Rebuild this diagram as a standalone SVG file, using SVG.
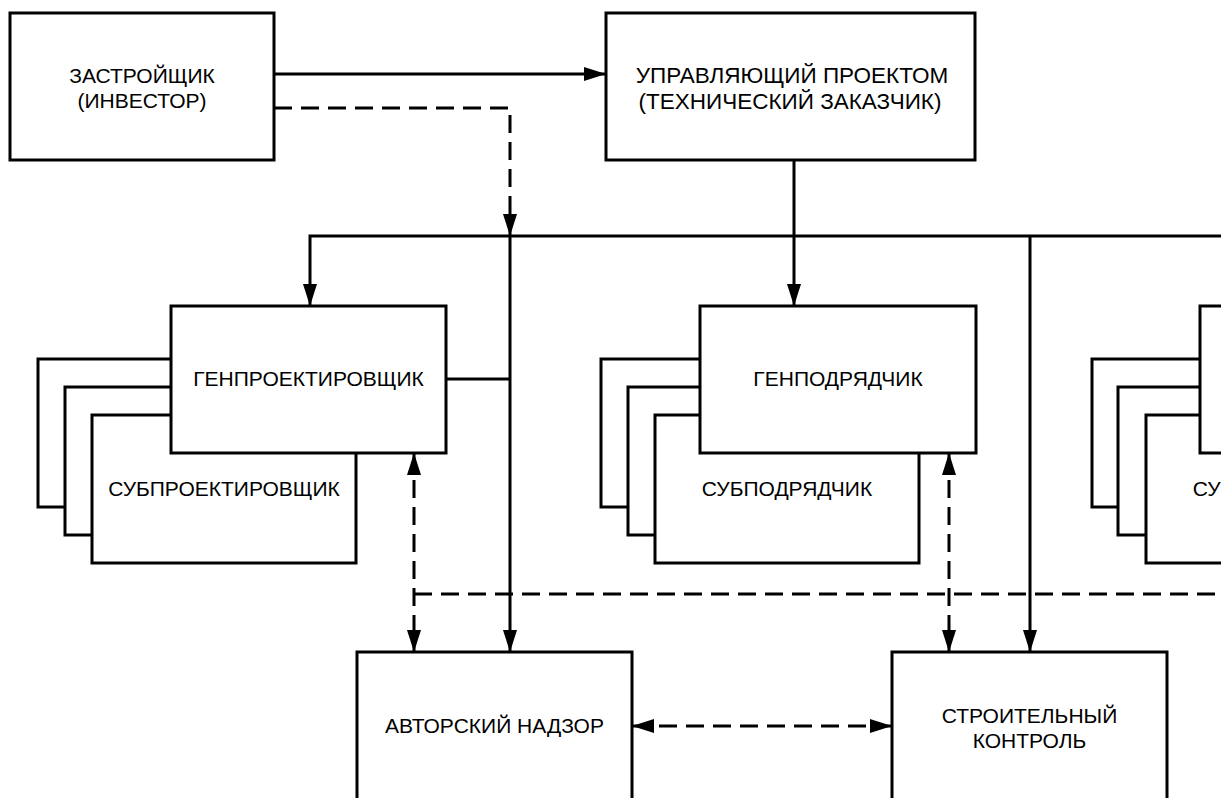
<svg xmlns="http://www.w3.org/2000/svg" width="1221" height="798" viewBox="0 0 1221 798">
<defs>
<style>
.box{fill:#fff;stroke:#000;stroke-width:3}
.ln{fill:none;stroke:#000;stroke-width:3}
.dash{fill:none;stroke:#000;stroke-width:3;stroke-dasharray:18 9}
.t{font-family:"Liberation Sans",Arial,sans-serif;font-size:21px;fill:#000;text-anchor:middle}
.big{font-size:22.5px}
</style>
<marker id="ah" markerUnits="userSpaceOnUse" markerWidth="22" markerHeight="14" refX="22" refY="7" orient="auto-start-reverse" viewBox="0 0 22 14">
<path d="M0,0 L22,7 L0,14 Z" fill="#000"/>
</marker>
</defs>
<rect width="1221" height="798" fill="#fff"/>

<g id="zastroyshchik">
<rect class="box" x="10" y="13" width="264" height="147"/>
<text class="t" x="142" y="83">ЗАСТРОЙЩИК</text>
<text class="t" x="142" y="108">(ИНВЕСТОР)</text>
</g>

<g id="upravlyayushchiy">
<rect class="box" x="606" y="13" width="369" height="147"/>
<text class="t big" x="792" y="83">УПРАВЛЯЮЩИЙ ПРОЕКТОМ</text>
<text class="t big" x="790" y="109">(ТЕХНИЧЕСКИЙ ЗАКАЗЧИК)</text>
</g>

<g id="subproektirovshchik">
<rect class="box" x="38" y="359" width="264" height="148"/>
<rect class="box" x="65" y="387" width="264" height="148"/>
<rect class="box" x="92" y="415" width="264" height="148"/>
<text class="t" x="224" y="496">СУБПРОЕКТИРОВЩИК</text>
</g>

<g id="genproektirovshchik">
<rect class="box" x="171" y="306" width="275" height="147"/>
<text class="t" x="308.5" y="386">ГЕНПРОЕКТИРОВЩИК</text>
</g>

<g id="subpodryadchik">
<rect class="box" x="601" y="359" width="264" height="148"/>
<rect class="box" x="628" y="387" width="264" height="148"/>
<rect class="box" x="655" y="415" width="264" height="148"/>
<text class="t" x="787" y="496">СУБПОДРЯДЧИК</text>
</g>

<g id="genpodryadchik">
<rect class="box" x="700" y="306" width="276" height="147"/>
<text class="t" x="838" y="386">ГЕНПОДРЯДЧИК</text>
</g>

<g id="subpodryadchik-2">
<rect class="box" x="1092" y="359" width="264" height="148"/>
<rect class="box" x="1118" y="387" width="264" height="148"/>
<rect class="box" x="1146" y="415" width="264" height="148"/>
<text class="t" x="1278" y="496">СУБПОДРЯДЧИК</text>
</g>

<g id="box-right">
<rect class="box" x="1200" y="306" width="276" height="147"/>
</g>

<g id="avtorskiy-nadzor">
<rect class="box" x="357" y="652" width="275" height="180"/>
<text class="t" x="494.5" y="733">АВТОРСКИЙ НАДЗОР</text>
</g>

<g id="stroitelny-kontrol">
<rect class="box" x="892" y="652" width="275" height="180"/>
<text class="t" x="1029.5" y="723">СТРОИТЕЛЬНЫЙ</text>
<text class="t" x="1029.5" y="748">КОНТРОЛЬ</text>
</g>

<g id="connectors">
<path class="ln" d="M274,74 H606" marker-end="url(#ah)"/>
<path class="dash" d="M274,108 H510 V236" marker-end="url(#ah)"/>
<path class="ln" d="M794,160 V306" marker-end="url(#ah)"/>
<path class="ln" d="M1221,236 H310 V306" marker-end="url(#ah)"/>
<path class="ln" d="M510,236 V652" marker-end="url(#ah)"/>
<path class="ln" d="M446,379 H510"/>
<path class="ln" d="M1030,236 V652" marker-end="url(#ah)"/>
<path class="dash" d="M414,594 H1221"/>
<path class="dash" d="M414,453 V652" marker-start="url(#ah)" marker-end="url(#ah)"/>
<path class="dash" d="M949,453 V652" marker-start="url(#ah)" marker-end="url(#ah)"/>
<path class="dash" d="M632,726 H892" marker-start="url(#ah)" marker-end="url(#ah)"/>
</g>
</svg>
